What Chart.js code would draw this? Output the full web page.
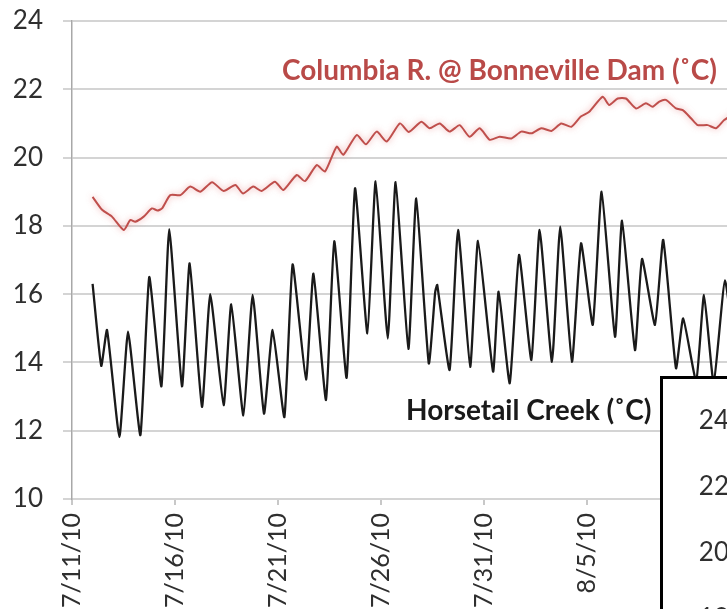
<!DOCTYPE html>
<html>
<head>
<meta charset="utf-8">
<script src="https://cdn.jsdelivr.net/npm/chart.js@4"></script>
<style>
  html, body { margin: 0; padding: 0; background: #fff; overflow: hidden; }
  #frame { position: relative; width: 727px; height: 609px; overflow: hidden; background: #fff; }
  #main { position: absolute; left: 0; top: 0; }
  #inset { position: absolute; left: 660px; top: 376px; width: 300px; height: 600px;
           border: 3px solid #000; background: #fff; overflow: hidden; }
  #insetChart { position: absolute; left: 0; top: 0; }
</style>
</head>
<body>
<div id="frame">
  <canvas id="main" width="800" height="609"></canvas>
  <div id="inset"><canvas id="insetChart" width="200" height="560"></canvas></div>
</div>
<script>
// Days after 7/11/10 and water temperature (°C), daily highs and lows
const horsetailDays = [1.00, 1.42, 1.70, 2.30, 2.72, 3.32, 3.75, 4.34, 4.72, 5.34, 5.71, 6.31, 6.71, 7.36, 7.73,
  8.32, 8.77, 9.32, 9.74, 10.31, 10.71, 11.36, 11.72, 12.33, 12.73, 13.33, 13.74, 14.34, 14.74, 15.33, 15.71,
  16.33, 16.71, 17.32, 17.62, 17.66, 17.73, 18.33, 18.74, 19.33, 19.71, 20.44, 20.71, 21.25, 21.70, 22.30, 22.70,
  23.30, 23.70, 24.27, 24.71, 25.28, 25.71, 26.36, 26.70, 27.33, 27.67, 28.30, 28.70, 29.32, 29.67, 30.30,
  30.68, 31.15, 31.70, 32.30];
const horsetailTemps = [16.3, 13.9, 14.95, 11.82, 14.9, 11.87, 16.5, 13.3, 17.9, 13.3, 16.9, 12.7, 16.0, 12.75, 15.7,
  12.45, 15.98, 12.5, 14.95, 12.4, 16.87, 13.5, 16.6, 12.9, 17.55, 13.55, 19.1, 14.85, 19.3, 14.7, 19.28,
  14.4, 18.8, 13.97, 16.0, 16.15, 16.27, 13.78, 17.88, 13.87, 17.56, 13.73, 16.07, 13.39, 17.15, 14.07, 17.88,
  14.02, 17.98, 14.02, 17.49, 15.1, 19.0, 14.75, 18.15, 14.36, 17.03, 15.1, 17.59, 13.83, 15.29, 13.45,
  15.98, 13.4, 16.4, 13.5];

const columbiaDays = [1.00, 1.46, 1.94, 2.51, 2.83, 3.07, 3.48, 3.88, 4.15, 4.37, 4.77, 5.26, 5.74, 6.23, 6.80,
  7.36, 7.93, 8.30, 8.80, 9.20, 9.85, 10.26, 10.91, 11.31, 11.88, 12.28, 12.85, 13.17, 13.82, 14.27, 14.79,
  15.28, 15.92, 16.35, 16.96, 17.36, 17.85, 18.33, 18.82, 19.30, 19.79, 20.28, 20.76, 21.33, 21.81, 22.30,
  22.78, 23.27, 23.75, 24.24, 24.70, 25.11, 25.76, 26.08, 26.49, 26.89, 27.38, 27.86, 28.19, 28.51, 28.83,
  29.32, 29.65, 30.05, 30.37, 30.86, 31.26, 31.66, 32.20];
const columbiaTemps = [18.85, 18.47, 18.27, 17.88, 18.17, 18.12, 18.27, 18.51, 18.45, 18.51, 18.9, 18.9, 19.15, 19.0, 19.28,
  19.02, 19.2, 18.95, 19.15, 19.02, 19.29, 19.05, 19.49, 19.31, 19.78, 19.59, 20.32, 20.08, 20.66, 20.39, 20.76,
  20.47, 21.0, 20.75, 21.05, 20.86, 21.0, 20.76, 20.95, 20.61, 20.86, 20.52, 20.61, 20.56, 20.76, 20.71,
  20.86, 20.78, 21.0, 20.9, 21.2, 21.34, 21.78, 21.54, 21.73, 21.73, 21.44, 21.59, 21.49, 21.64, 21.69,
  21.44, 21.39, 21.15, 20.95, 20.95, 20.86, 21.1, 21.3];

// Date axis: span in days, tick positions and their labels
const dateSpan = [0, 35];
const dateTickDays = [0, 5, 10, 15, 20, 25, 30];
const dateTickLabels = ['7/11/10', '7/16/10', '7/21/10', '7/26/10', '7/31/10', '8/5/10', '8/10/10'];

// Temperature axis ticks
const tempTicks = [10, 12, 14, 16, 18, 20, 22, 24];
const insetTempTicks = [10, 12, 14, 16, 18, 20, 22, 24];

const seriesNames = ['Horsetail Creek (˚C)', 'Columbia R. @ Bonneville Dam (˚C)'];

const FONT = 'Lato, "Open Sans", "Liberation Sans", sans-serif';
const TICK_COLOR = '#2f2f2f';

function toPoints(xs, ys) { return xs.map((x, i) => ({ x: x, y: ys[i] })); }

// Series names written beside their lines
const seriesLabels = {
  id: 'seriesLabels',
  afterDatasetsDraw(chart) {
    const ctx = chart.ctx;
    ctx.save();
    ctx.font = 'bold 28px ' + FONT;
    ctx.textBaseline = 'alphabetic';
    ctx.textAlign = 'left';
    ctx.fillStyle = '#b94a48';
    ctx.fillText(seriesNames[1], 282, 80);
    ctx.fillStyle = '#1a1a1a';
    ctx.fillText(seriesNames[0], 406, 420);
    ctx.restore();
  }
};

// Soft glow under the river line
const riverGlow = {
  id: 'riverGlow',
  beforeDatasetDraw(chart, args) {
    if (args.index !== 1) return;
    chart.ctx.save();
    chart.ctx.shadowColor = 'rgba(230, 120, 120, 0.7)';
    chart.ctx.shadowBlur = 6;
  },
  afterDatasetDraw(chart, args) {
    if (args.index !== 1) return;
    chart.ctx.restore();
  }
};

new Chart(document.getElementById('main'), {
  type: 'line',
  data: {
    datasets: [
      {
        label: seriesNames[0],
        data: toPoints(horsetailDays, horsetailTemps),
        borderColor: '#1a1a1a',
        borderWidth: 2.3,
        pointRadius: 0,
        tension: 0.15,
        borderJoinStyle: 'round'
      },
      {
        label: seriesNames[1],
        data: toPoints(columbiaDays, columbiaTemps),
        borderColor: '#bf4f4c',
        borderWidth: 2,
        pointRadius: 0,
        tension: 0.2,
        borderJoinStyle: 'round'
      }
    ]
  },
  options: {
    responsive: false,
    animation: false,
    layout: { padding: { top: 21, right: 7, left: 0, bottom: 0 } },
    plugins: { legend: { display: false }, tooltip: { enabled: false } },
    scales: {
      x: {
        type: 'linear',
        min: dateSpan[0],
        max: dateSpan[1],
        afterBuildTicks(scale) { scale.ticks = dateTickDays.map(v => ({ value: v })); },
        afterFit(scale) { scale.height = 110; },
        grid: { drawOnChartArea: false, drawTicks: true, tickLength: 6, color: '#c8c8c8', lineWidth: 2 },
        border: { display: true, color: '#d4d4d4', width: 2 },
        ticks: {
          autoSkip: false,
          minRotation: 90,
          maxRotation: 90,
          padding: 8,
          color: TICK_COLOR,
          font: { family: FONT, size: 25 },
          callback(value) {
            const i = dateTickDays.indexOf(value);
            return i >= 0 ? dateTickLabels[i] : '';
          }
        }
      },
      y: {
        min: tempTicks[0],
        max: tempTicks[tempTicks.length - 1],
        afterBuildTicks(scale) { scale.ticks = tempTicks.map(v => ({ value: v })); },
        afterFit(scale) { scale.width = 72; scale.paddingTop = 0; scale.paddingBottom = 0; },
        grid: { color: '#d4d4d4', lineWidth: 2, tickLength: 9 },
        border: { display: true, color: '#a8a8a8', width: 1.5 },
        ticks: {
          padding: 20,
          color: TICK_COLOR,
          font: { family: FONT, size: 26 }
        }
      }
    }
  },
  plugins: [riverGlow, seriesLabels]
});

// Second panel placed over the lower right corner
new Chart(document.getElementById('insetChart'), {
  type: 'line',
  data: { datasets: [] },
  options: {
    responsive: false,
    animation: false,
    layout: { padding: { top: 42, right: 0, left: 0, bottom: 56 } },
    plugins: { legend: { display: false }, tooltip: { enabled: false } },
    scales: {
      x: { type: 'linear', display: false, min: dateSpan[0], max: dateSpan[1] },
      y: {
        min: insetTempTicks[0],
        max: insetTempTicks[insetTempTicks.length - 1],
        afterBuildTicks(scale) { scale.ticks = insetTempTicks.map(v => ({ value: v })); },
        afterFit(scale) { scale.width = 90; scale.paddingTop = 0; scale.paddingBottom = 0; },
        grid: { color: '#d4d4d4', lineWidth: 2, drawTicks: false },
        border: { display: false },
        ticks: { padding: 24, color: TICK_COLOR, font: { family: FONT, size: 26 } }
      }
    }
  }
});
</script>
</body>
</html>
